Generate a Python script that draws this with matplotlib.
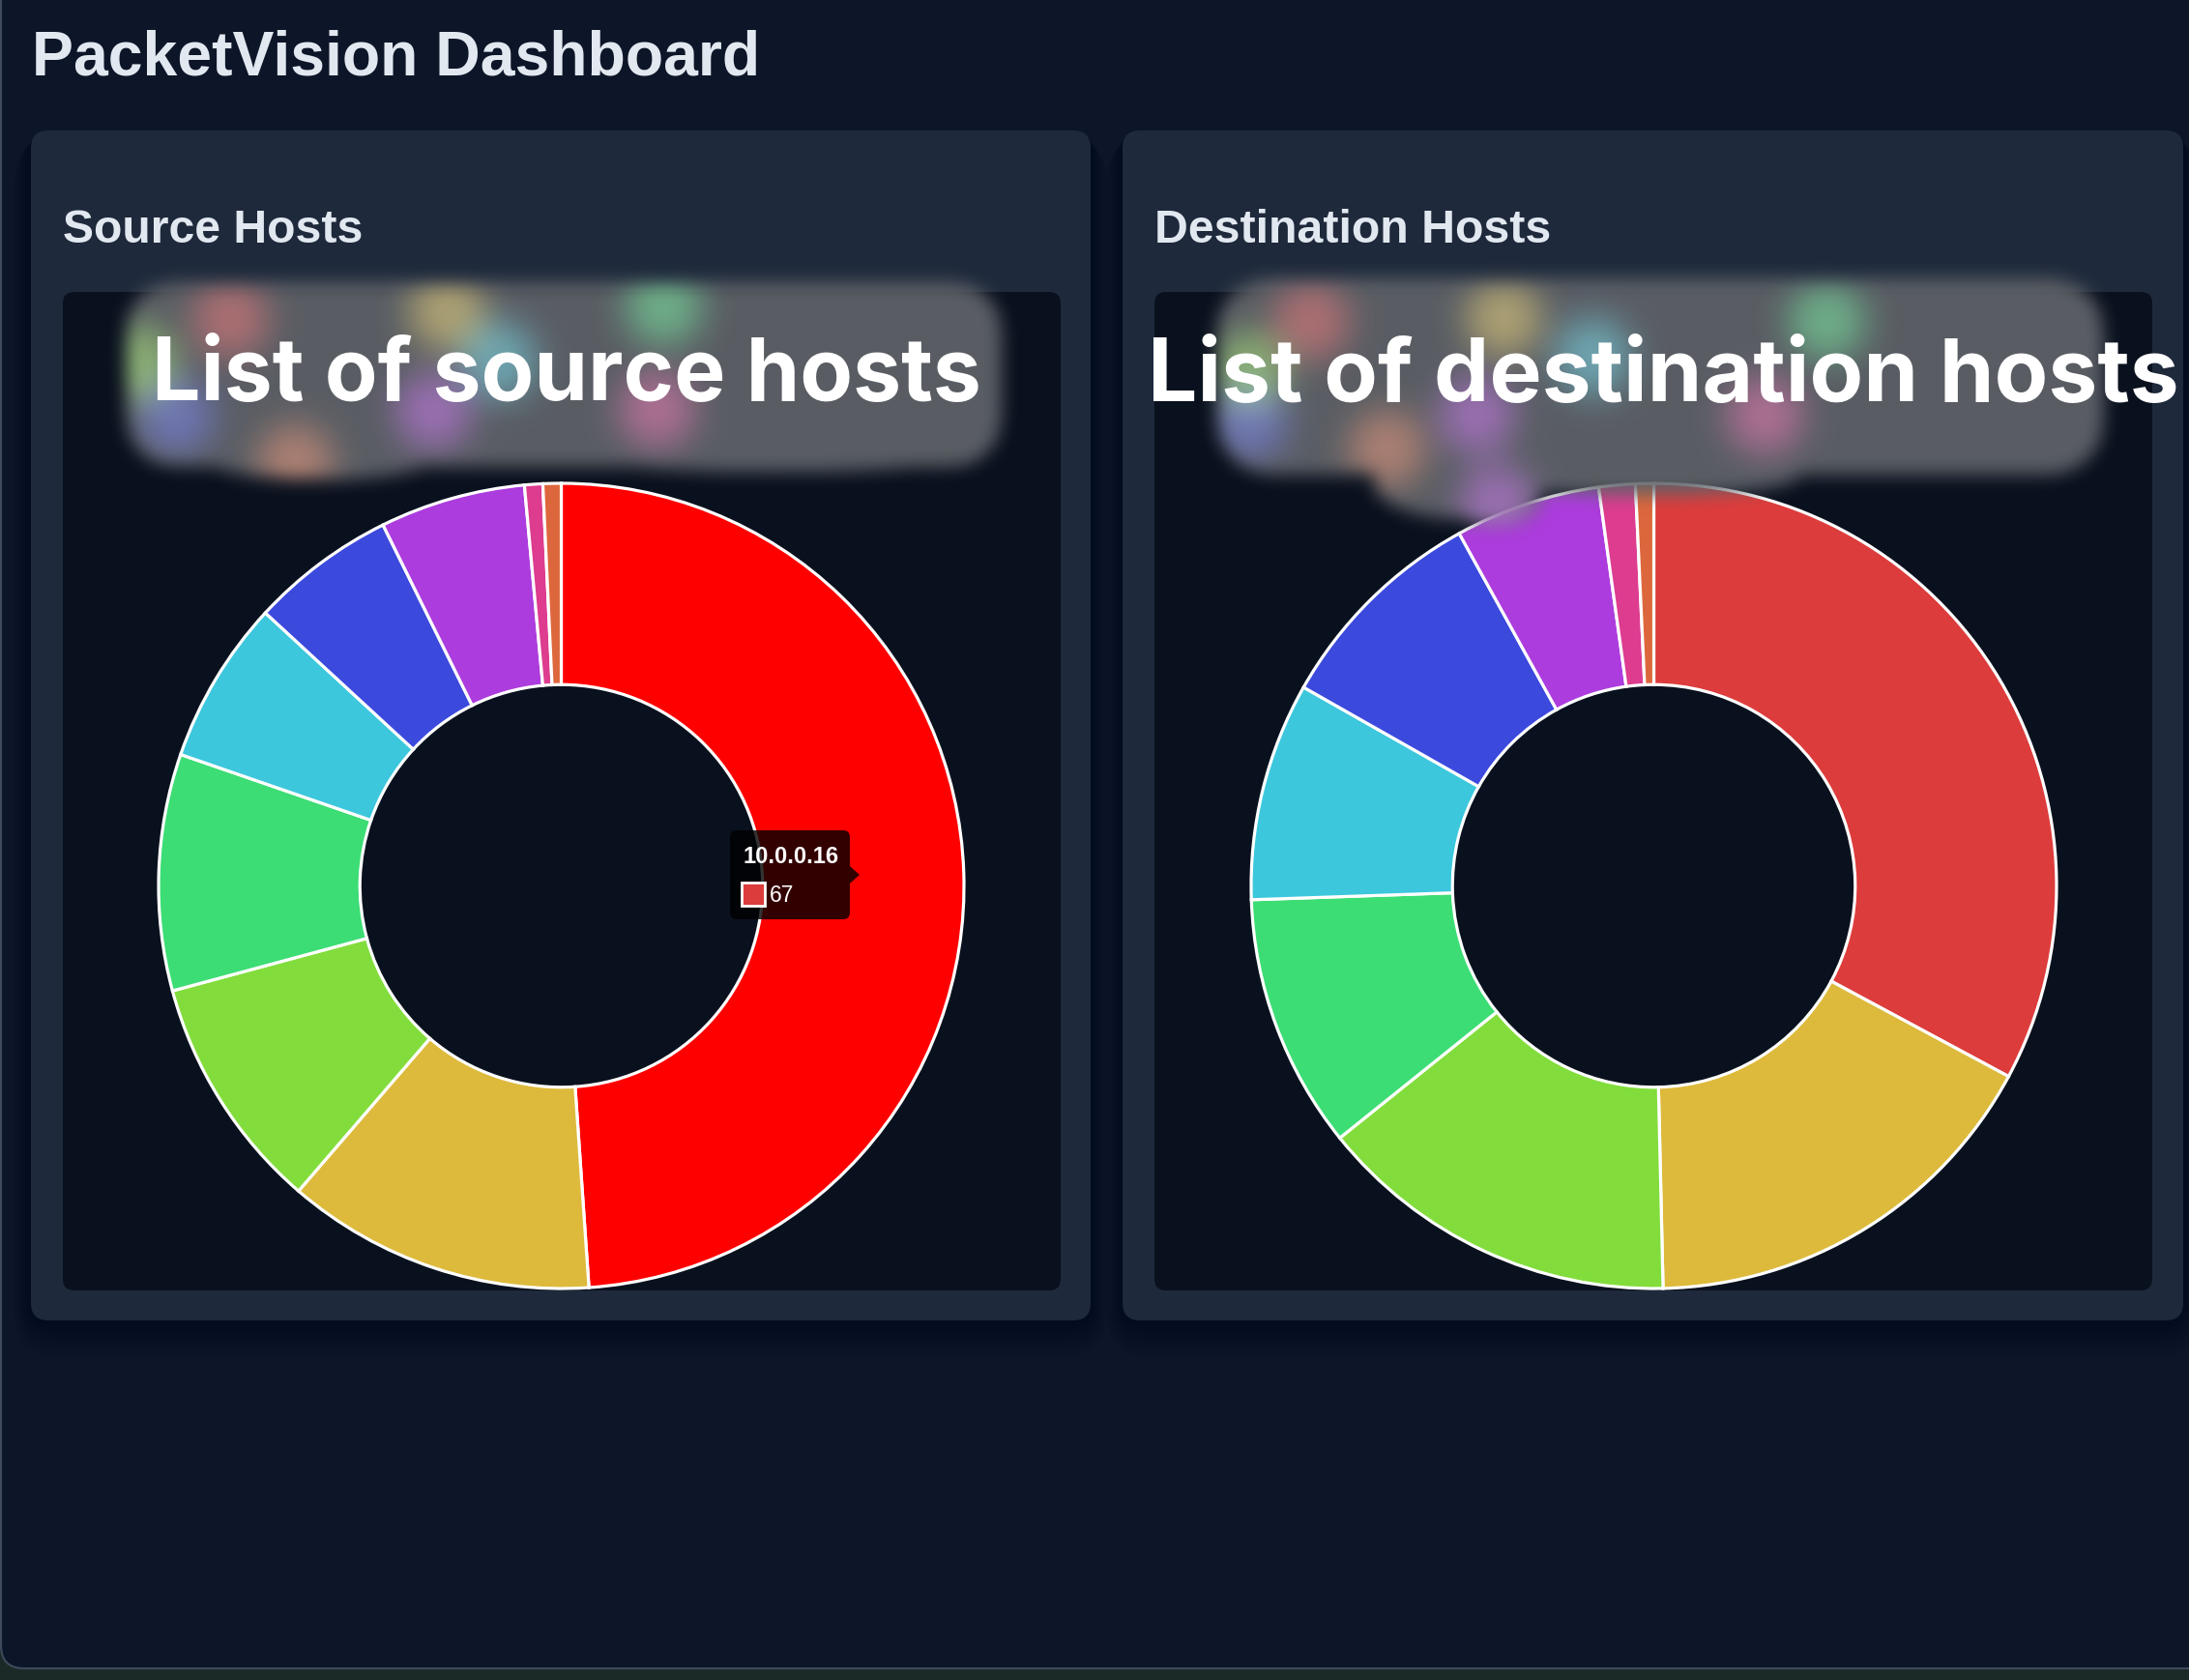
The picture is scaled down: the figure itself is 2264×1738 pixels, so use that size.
import numpy as np
import matplotlib
matplotlib.use("Agg")
import matplotlib.pyplot as plt
from matplotlib.patches import FancyBboxPatch, Polygon, Rectangle
from matplotlib.textpath import TextPath
from matplotlib.font_manager import FontProperties
import colorsys

# ---------------- data ----------------
source_values = [67, 17, 13, 13, 9, 8, 8, 1, 1]
dest_values = [45, 23, 20, 14, 12, 12, 8, 2, 1]
hovered_label = "10.0.0.16"
hovered_value = 67
title = "PacketVision Dashboard"
panel_titles = ["Source Hosts", "Destination Hosts"]
overlay_texts = ["List of source hosts", "List of destination hosts"]

# palette: hsl(i*47, 70%, 55%)
def hsl(h, s=0.70, l=0.55):
    return colorsys.hls_to_rgb((h % 360) / 360.0, l, s)

palette = [hsl(i * 47) for i in range(len(source_values))]
hover_red = (1.0, 0.0, 0.0)

W, H, DPI = 2264, 1738, 100
BG = "#0d1628"
PANEL = "#1e293b"
INNER = "#0a111e"
TXT = "#e2e8f0"

fig = plt.figure(figsize=(W / DPI, H / DPI), dpi=DPI, facecolor="#1b2a27")


def fit_size(s, family, weight, cap_px, width_px, mode="mean"):
    fp = FontProperties(family=family, weight=weight, size=100)
    cap = TextPath((0, 0), "H", size=100, prop=fp).get_extents().height
    wid = TextPath((0, 0), s, size=100, prop=fp).get_extents().width
    s_cap = cap_px * 72.0 / cap
    s_w = width_px * 72.0 / wid
    if mode == "width":
        return s_w
    return np.sqrt(s_cap * s_w)


def px_axes(x0, y0, x1, y1, z):
    return fig.add_axes([x0 / W, 1 - y1 / H, (x1 - x0) / W, (y1 - y0) / H], zorder=z)


# ---------------- background layer ----------------
bg = fig.add_axes([0, 0, 1, 1], zorder=0)
bg.set_xlim(0, W)
bg.set_ylim(H, 0)
bg.axis("off")

bg.add_patch(FancyBboxPatch((1, -60), W + 60, 60 + 1726, boxstyle="round,pad=0,rounding_size=24",
                            facecolor=BG, edgecolor="#3f495c", linewidth=1.5))

panels = [(32, 135, 1128, 1366), (1161, 135, 2258, 1366)]
inners = [(65, 302, 1097, 1335), (1194, 302, 2226, 1335)]
for (x0, y0, x1, y1) in panels:
    for k in range(10, 0, -1):
        g = 3.0 * k
        bg.add_patch(FancyBboxPatch((x0 - g * 0.6, y0 + g * 0.3), x1 - x0 + 1.2 * g, y1 - y0 + g,
                                    boxstyle="round,pad=0,rounding_size=%f" % (18 + g),
                                    facecolor="black", edgecolor="none", alpha=0.025))
    bg.add_patch(FancyBboxPatch((x0, y0), x1 - x0, y1 - y0, boxstyle="round,pad=0,rounding_size=18",
                                facecolor=PANEL, edgecolor="none"))
for (x0, y0, x1, y1) in inners:
    bg.add_patch(FancyBboxPatch((x0, y0), x1 - x0, y1 - y0, boxstyle="round,pad=0,rounding_size=12",
                                facecolor=INNER, edgecolor="none"))

sz = fit_size(title, "Liberation Sans", "bold", 46, 745, mode="width")
bg.text(33, 77, title, fontsize=sz, family="Liberation Sans", weight="bold", color=TXT, va="baseline", ha="left")
for (x0, y0, x1, y1), t, w in zip(inners, panel_titles, [307, 405]):
    sz = fit_size(t, "Liberation Sans", "bold", 34, w, mode="width")
    bg.text(x0, 251, t, fontsize=sz, family="Liberation Sans", weight="bold", color=TXT, va="baseline", ha="left")

# ---------------- donuts ----------------
R = 416.5
centers = [(580.5, 916.5), (1710.5, 916.5)]
for (cx, cy), vals, hov in zip(centers, [source_values, dest_values], [True, False]):
    ax = px_axes(cx - R, cy - R, cx + R, cy + R, 2)
    cols = list(palette)
    if hov:
        cols[0] = hover_red
    wedges, _ = ax.pie(vals, colors=cols, startangle=90, counterclock=False, radius=1.0,
                       wedgeprops=dict(width=0.5, edgecolor="white", linewidth=2.3))
    for wdg in wedges:
        wdg.set_clip_on(False)
    ax.set_xlim(-1, 1)
    ax.set_ylim(-1, 1)
    ax.set_aspect("equal")
    ax.axis("off")

# ---------------- blurred legend overlay ----------------
y0r, y1r = 230, 600
hh = y1r - y0r
yy, xx = np.mgrid[y0r:y1r, 0:W].astype(np.float32)
mask = np.zeros((hh, W), np.float32)


def add_rrect(x0, y0, x1, y1, rad):
    cx, cy = (x0 + x1) / 2, (y0 + y1) / 2
    hx, hy = (x1 - x0) / 2 - rad, (y1 - y0) / 2 - rad
    dx = np.maximum(np.abs(xx - cx) - hx, 0)
    dy = np.maximum(np.abs(yy - cy) - hy, 0)
    mask[np.hypot(dx, dy) <= rad] = 1


def add_ell(cx, cy, rx, ry):
    mask[((xx - cx) / rx) ** 2 + ((yy - cy) / ry) ** 2 <= 1] = 1


def box_blur(a, r, axis):
    pad = [(0, 0)] * a.ndim
    pad[axis] = (r + 1, r)
    ap = np.pad(a, pad, mode="constant")
    c = np.cumsum(ap, axis=axis, dtype=np.float64)
    n = a.shape[axis]
    hi = np.take(c, np.arange(2 * r + 1, 2 * r + 1 + n), axis=axis)
    lo = np.take(c, np.arange(0, n), axis=axis)
    return ((hi - lo) / (2 * r + 1)).astype(np.float32)


def gblur(a, r):
    for _ in range(3):
        a = box_blur(a, r, 0)
        a = box_blur(a, r, 1)
    return a


# source blob shape
add_rrect(130, 292, 1035, 482, 50)
add_ell(172, 400, 42, 70)
add_ell(330, 472, 120, 24)
add_ell(800, 470, 200, 18)
# destination blob shape
add_rrect(1258, 288, 2175, 490, 55)
add_ell(1510, 498, 90, 38)
add_ell(1545, 516, 48, 28)
add_ell(1700, 492, 160, 20)

grey = np.array([0.37, 0.385, 0.41], np.float32)
delta = np.zeros((hh, W, 3), np.float32)
# (x, y, palette index)
dots = [(238, 330, 0), (462, 322, 1), (686, 317, 3), (144, 375, 2), (515, 372, 4),
        (182, 430, 5), (448, 425, 6), (679, 423, 7), (305, 478, 8),
        (1356, 332, 0), (1555, 329, 1), (1889, 332, 3), (1292, 382, 2), (1647, 368, 4),
        (1292, 436, 5), (1527, 429, 6), (1825, 429, 7), (1434, 464, 8), (1548, 520, 6)]
for (dx_, dy_, ci) in dots:
    c = np.array(palette[ci], np.float32)
    c = 0.65 * c + 0.35
    disk = (((xx - dx_) ** 2 + (yy - dy_) ** 2) <= 40 ** 2).astype(np.float32)
    delta += disk[..., None] * (c - grey) * 0.62
delta = np.stack([gblur(delta[..., i], 16) for i in range(3)], axis=-1)
alpha = gblur(mask, 8) * 0.95
rgba = np.zeros((hh, W, 4), np.float32)
rgba[..., :3] = np.clip(grey + delta, 0, 1)
rgba[..., 3] = np.clip(alpha, 0, 1)

ov = fig.add_axes([0, 0, 1, 1], zorder=5)
ov.axis("off")
ov.patch.set_alpha(0)
ov.imshow(rgba, extent=(0, W, y1r, y0r), interpolation="bilinear", aspect="auto", zorder=1)
ov.set_xlim(0, W)
ov.set_ylim(H, 0)

# overlay caption font: choose closest proportion among installed families
cands = ["Open Sans", "Roboto", "Lato", "Noto Sans", "Inter", "Liberation Sans"]
target_ratio = 843.0 / 66.0
best = None
for f in cands:
    fp = FontProperties(family=f, weight="bold", size=100)
    cap = TextPath((0, 0), "L", size=100, prop=fp).get_extents().height
    wid = TextPath((0, 0), overlay_texts[0], size=100, prop=fp).get_extents().width
    d = abs(wid / cap - target_ratio)
    if best is None or d < best[0]:
        best = (d, f)
ofam = best[1]
for (x, base, cap, w), t in zip([(157, 414, 66, 838), (1187, 415, 67, 1045)], overlay_texts):
    sz = fit_size(t, ofam, "bold", cap, w)
    ov.text(x, base, t, fontsize=sz, family=ofam, weight="bold", color="white",
            va="baseline", ha="left", zorder=3)

# ---------------- tooltip ----------------
ov.add_patch(FancyBboxPatch((755, 859), 124, 92, boxstyle="round,pad=0,rounding_size=7",
                            facecolor=(0, 0, 0, 0.8), edgecolor="none", zorder=4))
ov.add_patch(Polygon([(879, 896), (889, 905), (879, 914)], closed=True,
                     facecolor=(0, 0, 0, 0.8), edgecolor="none", zorder=4))
sz = fit_size(hovered_label, "Liberation Sans", "bold", 16, 97, mode="width")
ov.text(769, 893, hovered_label, fontsize=sz, family="Liberation Sans", weight="bold",
        color="white", va="baseline", ha="left", zorder=5)
ov.add_patch(Rectangle((767, 913), 24, 24, facecolor=palette[0], edgecolor="white",
                       linewidth=2.0, zorder=5))
ov.text(796, 933, str(hovered_value), fontsize=16.5, family="Liberation Sans",
        color="white", va="baseline", ha="left", zorder=5)

fig.savefig("out.png", dpi=DPI, facecolor=fig.get_facecolor())
